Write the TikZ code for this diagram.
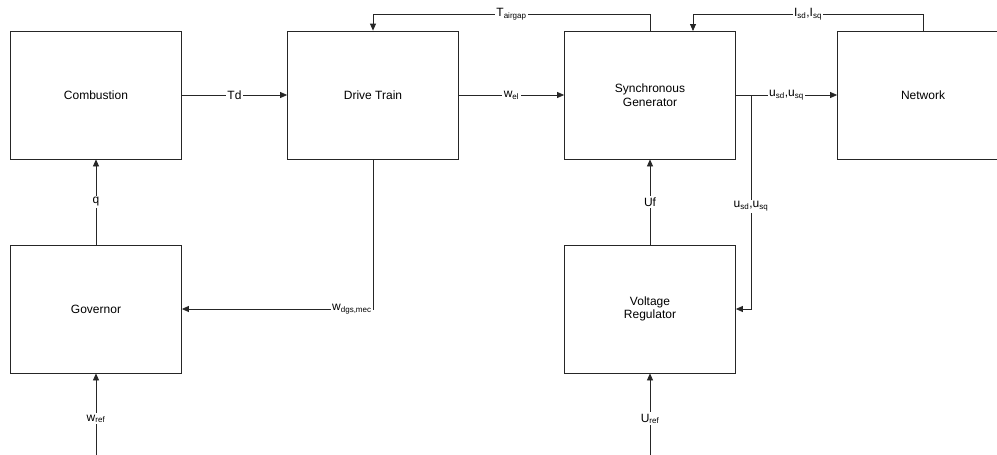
\documentclass[tikz,border=0pt]{standalone}
\usepackage{fontspec}
\setmainfont{Liberation Sans}
\usetikzlibrary{arrows.meta}
\begin{document}
\begin{tikzpicture}[x=1pt,y=-1pt,
  blk/.style={draw=black!85, line width=0.8pt, minimum width=171pt, minimum height=128pt, align=center, inner sep=0pt, font=\fontsize{12}{13.5}\selectfont},
  lbl/.style={fill=white, inner sep=1.5pt, font=\fontsize{12}{13.5}\selectfont},
  conn/.style={draw=black!85, line width=0.8pt},
  arr/.style={conn, -{Triangle[length=7pt,width=6pt]}}]
\clip (0,0) rectangle (997,455);
\fill[white] (0,0) rectangle (997,455);
% blocks
\node[blk] (comb) at (96,95) {Combustion};
\node[blk] (dt) at (373,95) {Drive Train};
\node[blk] (sg) at (650,95) {Synchronous\\Generator};
\node[blk] (net) at (923,95) {Network};
\node[blk] (gov) at (96,309) {Governor};
\node[blk] (vr) at (650,309) {Voltage\\Regulator};
% helper coordinates
\coordinate (br) at (751,95);
\coordinate (sgin) at (693,31);
\coordinate (wrefin) at (96,456);
\coordinate (urefin) at (650,456);
% connectors
\draw[arr] (comb) -- node[lbl]{Td} (dt);
\draw[arr] (dt) -- node[lbl]{w\textsubscript{el}} (sg);
\draw[arr] (sg.east) -- node[lbl]{u\textsubscript{sd},u\textsubscript{sq}} (net.west);
\draw[arr] (br) |- node[lbl,pos=0.26]{u\textsubscript{sd},u\textsubscript{sq}} (vr.east);
\draw[arr] (sg.north) -- ++(0,-16) -| node[lbl,pos=0.25]{T\textsubscript{airgap}} (dt.north);
\draw[arr] (net.north) -- ++(0,-16) -| node[lbl,pos=0.25]{I\textsubscript{sd},I\textsubscript{sq}} (sgin);
\draw[arr] (vr) -- node[lbl]{Uf} (sg);
\draw[arr] (gov) -- node[lbl]{q} (comb);
\draw[arr] (dt.south) |- node[lbl,pos=0.5,anchor=east,inner sep=1pt]{w\textsubscript{dgs,mec}} (gov.east);
\draw[arr] (wrefin) -- node[lbl,pos=0.45]{w\textsubscript{ref}} (gov.south);
\draw[arr] (urefin) -- node[lbl,pos=0.45]{U\textsubscript{ref}} (vr.south);
\end{tikzpicture}
\end{document}
